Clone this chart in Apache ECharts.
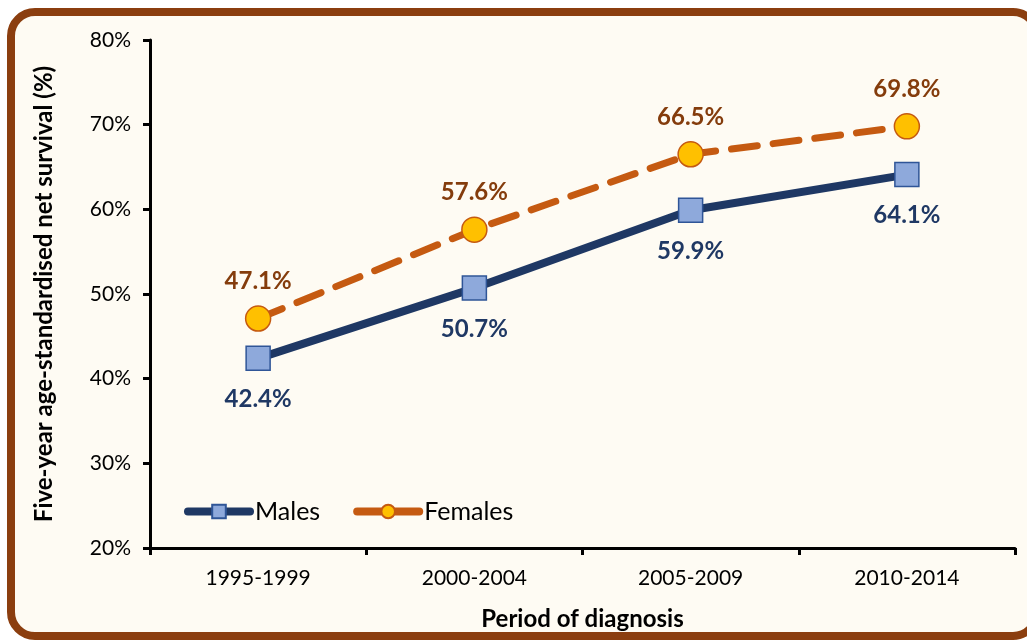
<!DOCTYPE html>
<html>
<head>
<meta charset="utf-8">
<script src="https://cdn.jsdelivr.net/npm/echarts@6/dist/echarts.min.js"></script>
<style>
  html, body { margin: 0; padding: 0; background: #ffffff; }
  #chart { width: 1027px; height: 641px; }
</style>
</head>
<body>
<div id="chart"></div>
<script>
const periods = ['1995-1999', '2000-2004', '2005-2009', '2010-2014']
const males = [42.4, 50.7, 59.9, 64.1]
const females = [47.1, 57.6, 66.5, 69.8]
const yTicks = [20, 30, 40, 50, 60, 70, 80]

const font = 'Lato, "Open Sans", sans-serif'
const navy = '#1F3864'
const orange = '#C55A11'

const chart = echarts.init(document.getElementById('chart'))

chart.setOption({
  backgroundColor: '#ffffff',
  textStyle: { fontFamily: font },
  graphic: [
    {
      type: 'rect',
      z: -10,
      silent: true,
      shape: { x: 11, y: 12, width: 1026, height: 624, r: 24 },
      style: { fill: '#FEFBF3', stroke: '#8B3E0F', lineWidth: 8 },
    },
  ],
  grid: { left: 150, right: 12, top: 40, bottom: 93, containLabel: false },
  legend: {
    left: 179,
    top: 494,
    itemWidth: 62,
    itemHeight: 17,
    itemGap: 33,
    textStyle: { fontSize: 25, color: '#000', fontFamily: font },
    data: [
      { name: 'Males', lineStyle: { type: 'solid', width: 8, cap: 'round' } },
      { name: 'Females', lineStyle: { type: 'solid', width: 8, cap: 'round' } },
    ],
  },
  xAxis: {
    type: 'category',
    data: periods,
    boundaryGap: true,
    name: 'Period of diagnosis',
    nameLocation: 'middle',
    nameGap: 59,
    nameTextStyle: { fontSize: 24, fontWeight: 'bold', color: '#000', fontFamily: font },
    axisLine: { lineStyle: { color: '#000', width: 3 } },
    axisTick: { show: true, alignWithLabel: false, length: 7, lineStyle: { color: '#000', width: 3 } },
    axisLabel: { fontSize: 21, color: '#000', margin: 20, fontFamily: font },
  },
  yAxis: {
    type: 'value',
    min: 20,
    max: 80,
    interval: 10,
    name: 'Five-year age-standardised net survival (%)',
    nameLocation: 'middle',
    nameGap: 94,
    nameTextStyle: { fontSize: 24, fontWeight: 'bold', color: '#000', fontFamily: font },
    axisLine: { show: true, lineStyle: { color: '#000', width: 3 } },
    axisTick: { show: true, length: 7, lineStyle: { color: '#000', width: 3 } },
    splitLine: { show: false },
    axisLabel: {
      fontSize: 21,
      color: '#000',
      margin: 19,
      fontFamily: font,
      formatter: v => (yTicks.includes(v) ? v + '%' : ''),
    },
  },
  series: [
    {
      name: 'Males',
      type: 'line',
      data: males,
      symbol: 'rect',
      symbolSize: 24,
      lineStyle: { color: navy, width: 8, cap: 'round' },
      itemStyle: { color: '#8EA9DB', borderColor: '#2F5597', borderWidth: 1.5 },
      label: {
        show: true,
        position: 'bottom',
        distance: 16,
        formatter: p => p.value.toFixed(1) + '%',
        fontSize: 24,
        fontWeight: 'bold',
        color: navy,
        fontFamily: font,
      },
      z: 3,
    },
    {
      name: 'Females',
      type: 'line',
      data: females,
      symbol: 'circle',
      symbolSize: 25,
      lineStyle: { color: orange, width: 7, type: [26, 16], cap: 'round' },
      itemStyle: { color: '#FFC000', borderColor: orange, borderWidth: 1.5 },
      label: {
        show: true,
        position: 'top',
        distance: 12,
        formatter: p => p.value.toFixed(1) + '%',
        fontSize: 24,
        fontWeight: 'bold',
        color: '#843C0C',
        fontFamily: font,
      },
      z: 4,
    },
  ],
})
</script>
</body>
</html>
